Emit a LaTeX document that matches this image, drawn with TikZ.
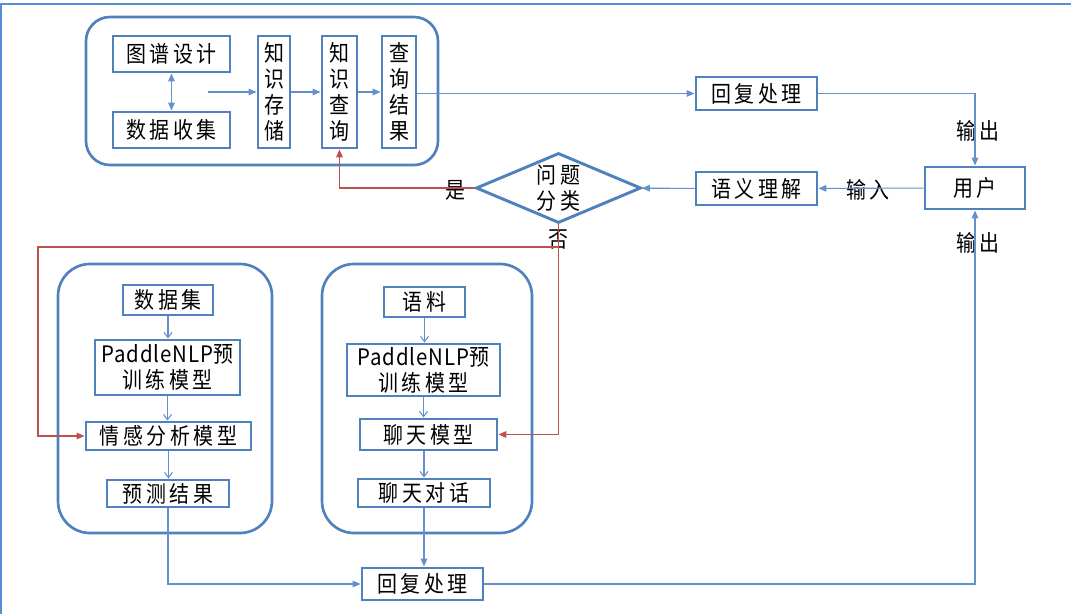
\documentclass[tikz,border=0pt]{standalone}
\usepackage{fontspec}
\setmainfont{Noto Sans CJK SC}[FakeStretch=0.88,LetterSpace=16]
\newfontfamily\latinpart{Noto Sans CJK SC}[FakeStretch=0.9,LetterSpace=4]
\usetikzlibrary{shapes.geometric,arrows.meta}
\definecolor{boxblue}{RGB}{79,129,189}
\definecolor{lineblue}{RGB}{100,145,205}
\definecolor{linered}{RGB}{192,80,77}
\definecolor{frameblue}{RGB}{85,142,213}
\tikzset{
  box/.style 2 args={draw=boxblue, line width=2.2pt, minimum width=#1*0.75pt, minimum height=#2*0.75pt, inner sep=0pt, align=center},
  group/.style={draw=boxblue, line width=2pt, rounded corners=#1*0.75pt},
  flow/.style={draw=lineblue, line width=0.8pt, -{Triangle[length=6pt,width=5pt]}},
  step2/.style={draw=lineblue, line width=0.8pt, -{Straight Barb[length=4pt,width=6pt]}},
  back/.style={draw=linered, line width=0.8pt, -{Triangle[length=6pt,width=5pt]}},
  tag/.style={inner sep=0pt}
}
\begin{document}
\begin{tikzpicture}[x=0.75pt,y=-0.75pt,every node/.style={font=\fontsize{17}{19.5}\selectfont}]
\useasboundingbox (0,0) rectangle (1071,614);
\draw[frameblue, line width=2pt] (1,614) -- (1,4) -- (1071,4);
\draw[group=24] (86,17) rectangle (438,165);
\draw[group=32] (58,264) rectangle (272,533);
\draw[group=32] (322,264) rectangle (532,533);
\node[box={117}{36}] (design) at (171.5,54) {图谱设计};
\node[box={117}{36}] (collect) at (171.5,130) {数据收集};
\node[box={32}{112}] (store) at (274,92) {知\\识\\存\\储};
\node[box={35}{112}] (query) at (339.5,92) {知\\识\\查\\询};
\node[box={34}{112}] (result) at (399,92) {查\\询\\结\\果};
\node[box={121}{33}] (reply1) at (756.5,93.5) {回复处理};
\node[box={100}{42}] (user) at (975,188) {用户};
\node[box={121}{33}] (parse) at (756.5,188.5) {语义理解};
\node[draw=boxblue, line width=2.2pt, diamond, aspect=2.35, inner sep=0pt, minimum width=165*0.75pt, minimum height=70*0.75pt, align=center] (classify) at (558.5,188) {问题\\分类};
\node[box={90}{30}] (dataset) at (168,300) {数据集};
\node[box={145}{55}] (pretrainA) at (167.5,367.5) {{\latinpart PaddleNLP}预\\训练模型};
\node[box={165}{28}] (sentiment) at (168.5,436) {情感分析模型};
\node[box={122}{27}] (predict) at (168,493.5) {预测结果};
\node[box={81}{30}] (corpus) at (424.5,302) {语料};
\node[box={153}{52}] (pretrainB) at (423.5,370) {{\latinpart PaddleNLP}预\\训练模型};
\node[box={137}{31}] (chatmodel) at (428.5,434.5) {聊天模型};
\node[box={132}{28}] (dialogue) at (424,493) {聊天对话};
\node[box={121}{32}] (reply2) at (422.5,584) {回复处理};
\node[tag] (out1) at (978,131) {输出};
\node[tag] (in1) at (868,190) {输入};
\node[tag] (out2) at (978,243) {输出};
\node[tag] (yes) at (455,190) {是};
\node[tag] (no) at (558,240) {否};
\coordinate (src) at (208,92);
\coordinate (fork) at (558.5,247);
\coordinate (bend) at (38,247);
\draw[flow, {Triangle[length=6pt,width=5pt]}-{Triangle[length=6pt,width=5pt]}] (design) -- (collect);
\draw[flow] (src) -- (store.west);
\draw[flow] (store) -- (query);
\draw[flow] (query) -- (result);
\draw[flow] (result.east |- reply1) -- (reply1.west);
\draw[flow] (reply1.east) -| (user.north);
\draw[flow] (user) -- (parse);
\draw[flow] (parse) -- (classify);
\draw[back] (classify.west) -| (query.south);
\draw[back] (classify.south) |- (chatmodel.east);
\draw[back] (fork) -- (bend) |- (sentiment.west);
\draw[step2] (dataset) -- (dataset |- pretrainA.north);
\draw[step2] (pretrainA) -- (pretrainA |- sentiment.north);
\draw[step2] (sentiment) -- (sentiment |- predict.north);
\draw[step2] (corpus) -- (corpus |- pretrainB.north);
\draw[step2] (pretrainB) -- (pretrainB |- chatmodel.north);
\draw[step2] (chatmodel.south -| dialogue) -- (dialogue.north);
\draw[flow] (predict.south) |- (reply2.west);
\draw[flow] (dialogue.south) -- (dialogue.south |- reply2.north);
\draw[flow] (reply2.east) -| (user.south);
\end{tikzpicture}
\end{document}
